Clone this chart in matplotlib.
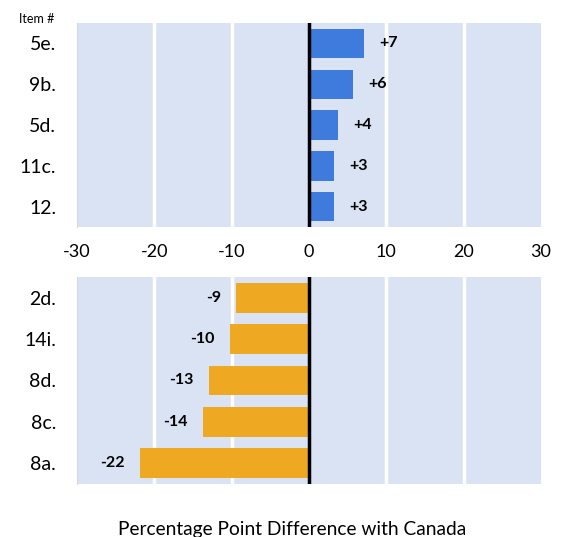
import matplotlib.pyplot as plt

# top panel: items above Canada
top_items = ['5e.', '9b.', '5d.', '11c.', '12.']
top_vals = [7.1, 5.7, 3.8, 3.2, 3.2]
top_labels = ['+7', '+6', '+4', '+3', '+3']

# bottom panel: items below Canada
bot_items = ['2d.', '14i.', '8d.', '8c.', '8a.']
bot_vals = [-9.4, -10.2, -12.9, -13.7, -21.9]
bot_labels = ['-9', '-10', '-13', '-14', '-22']

xticks = [-30, -20, -10, 0, 10, 20, 30]

plt.rcParams['font.family'] = ['Lato', 'DejaVu Sans']

BG = '#DAE3F3'
BLUE = '#3F7BDC'
ORANGE = '#EEA822'

fig = plt.figure(figsize=(5.66, 5.37), dpi=100)
ax1 = fig.add_axes([0.136, 0.577, 0.820, 0.380])
ax2 = fig.add_axes([0.136, 0.099, 0.820, 0.385])


def draw_panel(ax, items, vals, labels, color):
    ax.set_facecolor(BG)
    pos = list(range(len(items)))
    ax.barh(pos, vals, height=0.72, color=color, zorder=3)
    ax.set_xlim(-30, 30)
    ax.set_ylim(len(items) - 0.5, -0.5)
    for x in [-20, -10, 10, 20]:
        ax.axvline(x, color='white', lw=2.5, zorder=1)
    ax.axvline(0, color='black', lw=2.5, zorder=4)
    ax.set_yticks(pos)
    ax.set_yticklabels(items, fontsize=14)
    ax.tick_params(axis='y', length=0, pad=15)
    for p, v, lab in zip(pos, vals, labels):
        if v >= 0:
            ax.annotate(lab, (v, p), xytext=(11, 0), textcoords='offset points',
                        ha='left', va='center', fontsize=11.5, fontweight='bold')
        else:
            ax.annotate(lab, (v, p), xytext=(-11, 0), textcoords='offset points',
                        ha='right', va='center', fontsize=11.5, fontweight='bold')
    for s in ['top', 'right', 'bottom']:
        ax.spines[s].set_visible(False)
    ax.spines['left'].set_color('#D9D9D9')
    ax.spines['left'].set_linewidth(0.8)


draw_panel(ax1, top_items, top_vals, top_labels, BLUE)
draw_panel(ax2, bot_items, bot_vals, bot_labels, ORANGE)

ax1.set_xticks(xticks)
ax1.set_xticklabels([str(t) for t in xticks], fontsize=13)
ax1.tick_params(axis='x', length=0, pad=12)
ax2.set_xticks([])

fig.text(0.065, 0.965, 'Item #', fontsize=9, ha='center', va='center')
fig.text(0.517, 0.014, 'Percentage Point Difference with Canada', fontsize=13.8,
         ha='center', va='center')

fig.savefig('out.png', dpi=100)
